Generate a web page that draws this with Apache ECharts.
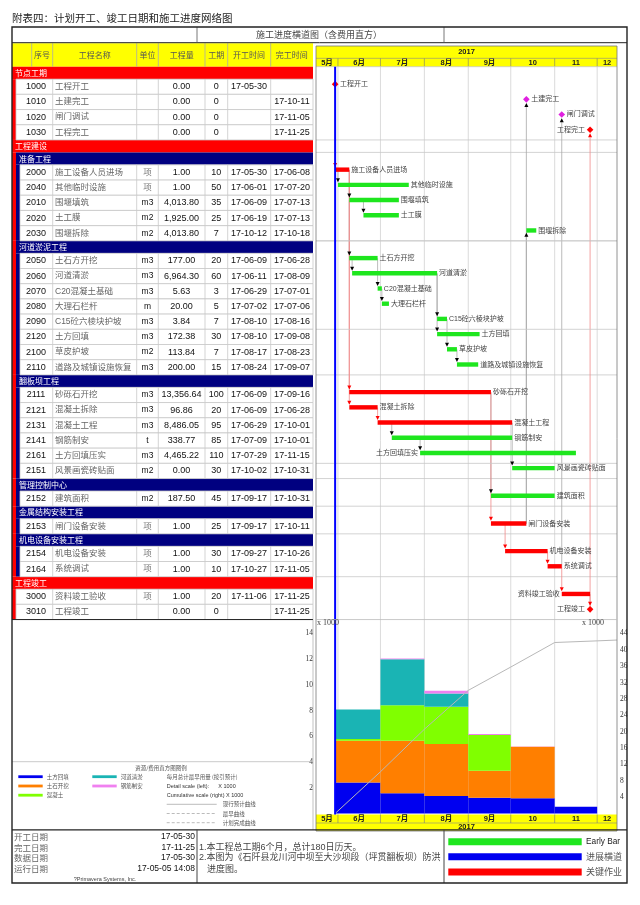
<!DOCTYPE html>
<html>
<head>
<meta charset="utf-8">
<script src="https://cdn.jsdelivr.net/npm/echarts@6/dist/echarts.min.js"></script>
<style>
html, body { margin: 0; padding: 0; background: #fff; }
#chart { width: 640px; height: 905px; }
</style>
</head>
<body>
<div id="chart"></div>
<script>
// ---- table / activity data ----
const codes = ['1000','1010','1020','1030','2000','2040','2010','2020','2030','2050','2060','2070','2080','2090','2120','2100','2110','2111','2121','2131','2141','2161','2151','2152','2153','2154','2164','3000','3010'];
const names = ['工程开工','土建完工','闸门调试','工程完工','施工设备人员进场','其他临时设施','围堰填筑','土工膜','围堰拆除','土石方开挖','河道清淤','C20混凝土基础','大理石栏杆','C15砼六棱块护坡','土方回填','草皮护坡','道路及城镇设施恢复','砂砾石开挖','混凝土拆除','混凝土工程','钢筋制安','土方回填压实','风景画瓷砖贴面','建筑面积','闸门设备安装','机电设备安装','系统调试','资料竣工验收','工程竣工'];
const units = ['','','','','项','项','m3','m2','m2','m3','m3','m3','m','m3','m3','m2','m3','m3','m3','m3','t','m3','m2','m2','项','项','项','项',''];
const quantities = ['0.00','0.00','0.00','0.00','1.00','1.00','4,013.80','1,925.00','4,013.80','177.00','6,964.30','5.63','20.00','3.84','172.38','113.84','200.00','13,356.64','96.86','8,486.05','338.77','4,465.22','0.00','187.50','1.00','1.00','1.00','1.00','0.00'];
const durations = [0,0,0,0,10,50,35,25,7,20,60,3,5,7,30,7,15,100,20,95,85,110,30,45,25,30,10,20,0];
const starts = ['17-05-30','','','','17-05-30','17-06-01','17-06-09','17-06-19','17-10-12','17-06-09','17-06-11','17-06-29','17-07-02','17-08-10','17-08-10','17-08-17','17-08-24','17-06-09','17-06-09','17-06-29','17-07-09','17-07-29','17-10-02','17-09-17','17-09-17','17-09-27','17-10-27','17-11-06',''];
const finishes = ['','17-10-11','17-11-05','17-11-25','17-06-08','17-07-20','17-07-13','17-07-13','17-10-18','17-06-28','17-08-09','17-07-01','17-07-06','17-08-16','17-09-08','17-08-23','17-09-07','17-09-16','17-06-28','17-10-01','17-10-01','17-11-15','17-10-31','17-10-31','17-10-11','17-10-26','17-11-05','17-11-25','17-11-25'];
const critical = [1,0,0,1, 1,0,0,0,0, 0,0,0,0,0,0,0,0, 1,1,1,0,0,0, 0, 1, 1,1, 1,1];
const preds = ['','2153','2164','3010','1000','2000','2000','2010','2153','2010','2050','2050','2070','2060','2060','2090','2100','2000','2000','2121','2131','2141','2131','2111','2111','2153','2154','2164','3000'];
const leftLabels = ['1030','2161','3000','3010'];

// group bands: name, level, index of first activity after band
const bandNames = ['节点工期','工程建设','准备工程','河道淤泥工程','翻板坝工程','管理控制中心','金属结构安装工程','机电设备安装工程','工程竣工'];
const bandLevel = [0,0,1,1,1,1,1,1,0];
const bandBefore = [0,4,4,9,17,23,24,25,27];

// ---- resource histogram (x 1000) ----
const histEdges = ['17-05-30','17-07-01','17-08-01','17-09-01','17-10-01','17-11-01','17-12-01'];
const histNames = ['土方回填','土石开挖','混凝土','河道清淤','钢筋制安'];
const fillBack   = [2.42, 1.57, 1.36, 1.23, 1.18, 0.53];
const excavation = [3.24, 4.09, 4.04, 2.10, 4.01, 0];
const concrete   = [0.13, 2.75, 2.90, 2.77, 0, 0];
const dredging   = [2.30, 3.59, 1.04, 0, 0, 0];
const rebar      = [0, 0.06, 0.20, 0.08, 0.03, 0];
const cumDates  = ['17-05-30','17-07-01','17-08-01','17-09-01','17-10-01','17-11-01','17-12-01','17-12-15'];
const cumValues = [0, 10.2, 20.6, 30.1, 35.8, 41.8, 42.2, 42.4];

// ---- timescale ----
const monthStarts = ['17-05-01','17-06-01','17-07-01','17-08-01','17-09-01','17-10-01','17-11-01','17-12-01','18-01-01'];
const monthLabels = ['5月','6月','7月','8月','9月','10','11','12'];
const dataDate = '17-05-30';

// ---- helpers & layout ----
const DAY = 864e5;
function t(s) { const p = s.split('-').map(Number); return new Date(2000 + p[0], p[1] - 1, p[2]).getTime(); }
const X_MIN = new Date(2017, 4, 16, 12).getTime();
const X_MAX = new Date(2017, 11, 15).getTime();

const RH = 15.2, BH = 12.45;
const GANTT_TOP = 66.7;
const rowTop = [], bandTop = [], rowIndent = [], rowInGroup = [];
let yy = 0, bi = 0, lvl = 0, cnt = 0;
for (let i = 0; i < codes.length; i++) {
  while (bi < bandNames.length && bandBefore[bi] === i) {
    bandTop.push(yy); yy += BH; lvl = bandLevel[bi]; bi++; cnt = 0;
  }
  rowTop.push(yy); yy += RH;
  rowIndent.push(lvl ? 20 : 16);
  rowInGroup.push(cnt++);
}
const H = yy;
const TABLE_R = 313;
const G_L = 316, G_R = 617;

const LAT = '"Liberation Sans", Arial, sans-serif';
const CJK = '"Noto Sans CJK SC", sans-serif';
const MIX = '"Liberation Sans", "Noto Sans CJK SC", sans-serif';
const SERIF = '"Liberation Serif", "DejaVu Serif", serif';
const GRID_C = '#c8c8c8';
const RED = '#ff0000', GREEN = '#1ee61e', MAGENTA = '#e020e0', NAVY = '#000080';

function txt(x, y, s, o) {
  return Object.assign({ type: 'text', x: x, y: y, style: Object.assign({ text: s, textAlign: 'left', textVerticalAlign: 'middle', fontFamily: CJK, fontSize: 8, fill: '#333' }, o || {}) });
}
function ln(x1, y1, x2, y2, stroke, w, dash) {
  return { type: 'line', shape: { x1: x1, y1: y1, x2: x2, y2: y2 }, style: { stroke: stroke, lineWidth: w || 1, lineDash: dash || null } };
}
function rc(x, y, w, h, fill, stroke, lw) {
  return { type: 'rect', shape: { x: x, y: y, width: w, height: h }, style: { fill: fill || 'none', stroke: stroke || null, lineWidth: lw || 1 } };
}

function markX(i) {
  if (durations[i] === 0) return starts[i] ? t(starts[i]) : t(finishes[i]) + DAY;
  return t(starts[i]);
}

// ---- render functions ----
function renderBand(params, api) {
  const b = api.value(2);
  const top = api.coord([X_MIN, bandTop[b]])[1];
  const bot = api.coord([X_MIN, bandTop[b] + BH])[1];
  const nextTop = b + 1 < bandTop.length ? bandTop[b + 1] : H;
  const sEnd = api.coord([X_MIN, nextTop])[1];
  const x0 = bandLevel[b] ? 16 : 12;
  const kids = [
    rc(x0, top, TABLE_R - x0, bot - top, bandLevel[b] ? NAVY : RED),
    txt(x0 + 3, (top + bot) / 2, bandNames[b], { fill: '#fff', fontSize: 8 }),
    rc(12, bandLevel[b] ? top : bot, 4, sEnd - (bandLevel[b] ? top : bot), RED),
    ln(G_L, top, G_R, top, GRID_C, 0.8)
  ];
  if (bandLevel[b]) kids.push(rc(16, bot, 4, sEnd - bot, NAVY));
  return { type: 'group', children: kids };
}

function renderTask(params, api) {
  const i = api.value(2);
  const top = api.coord([X_MIN, rowTop[i]])[1];
  const bot = api.coord([X_MIN, rowTop[i] + RH])[1];
  const yc = (top + bot) / 2;
  const x0 = rowIndent[i];
  const kids = [rc(x0, top, TABLE_R - x0, bot - top, '#fff', GRID_C, 0.8)];
  [52.7, 136.7, 158.3, 205, 227.7, 270.7].forEach(cx => kids.push(ln(cx, top, cx, bot, GRID_C, 0.8)));
  kids.push(txt(36, yc, codes[i], { textAlign: 'center', fontFamily: LAT, fontSize: 9, fill: '#111' }));
  kids.push(txt(55, yc, names[i], { fontFamily: MIX, fontSize: 8.5, fill: '#666' }));
  kids.push(txt(147.5, yc, units[i], { textAlign: 'center', fontFamily: MIX, fontSize: 8.5, fill: units[i] === '项' ? '#777' : '#111' }));
  kids.push(txt(181.5, yc, quantities[i], { textAlign: 'center', fontFamily: LAT, fontSize: 9, fill: '#111' }));
  kids.push(txt(216.3, yc, String(durations[i]), { textAlign: 'center', fontFamily: LAT, fontSize: 9, fill: '#111' }));
  kids.push(txt(249, yc, starts[i], { textAlign: 'center', fontFamily: LAT, fontSize: 9, fill: '#111' }));
  kids.push(txt(292, yc, finishes[i], { textAlign: 'center', fontFamily: LAT, fontSize: 9, fill: '#111' }));

  // 5-row sight lines inside gantt
  if ((rowInGroup[i] + 1) % 5 === 0) kids.push(ln(G_L, bot, G_R, bot, GRID_C, 0.8));

  const crit = critical[i] === 1;
  const isMs = durations[i] === 0;
  const x = api.coord([markX(i), 0])[0];
  const by = yc - 2.6;
  const left = leftLabels.indexOf(codes[i]) >= 0;
  const lab = { fontFamily: MIX, fontSize: 7, fill: '#444' };
  if (isMs) {
    const c = crit ? RED : MAGENTA;
    kids.push({ type: 'polygon', shape: { points: [[x, by - 3.3], [x + 3.3, by], [x, by + 3.3], [x - 3.3, by]] }, style: { fill: c } });
    kids.push(txt(left ? x - 5 : x + 5, by, names[i], Object.assign({ textAlign: left ? 'right' : 'left' }, lab)));
  } else {
    const xe = api.coord([t(finishes[i]) + DAY, 0])[0];
    kids.push(rc(x, yc - 5, xe - x, 4.4, crit ? RED : GREEN));
    kids.push(txt(left ? x - 2 : xe + 2, by, names[i], Object.assign({ textAlign: left ? 'right' : 'left' }, lab)));
  }
  if (preds[i]) {
    const p = codes.indexOf(preds[i]);
    const ac = crit && critical[p] ? RED : '#000';
    let tip;
    if (p < i) {
      tip = isMs ? by - 3.6 : yc - 5.4;
      kids.push({ type: 'polygon', shape: { points: [[x - 2, tip - 4], [x + 2, tip - 4], [x, tip]] }, style: { fill: ac } });
    } else {
      tip = isMs ? by + 3.6 : yc - 0.4;
      kids.push({ type: 'polygon', shape: { points: [[x - 2, tip + 4], [x + 2, tip + 4], [x, tip]] }, style: { fill: ac } });
    }
  }
  return { type: 'group', children: kids };
}

function renderLink(params, api) {
  const i = api.value(2);
  const p = codes.indexOf(preds[i]);
  const x = api.coord([markX(i), 0])[0];
  const ycI = api.coord([X_MIN, rowTop[i] + RH / 2])[1];
  const ycP = api.coord([X_MIN, rowTop[p] + RH / 2])[1];
  const isMs = durations[i] === 0;
  const y2 = p < i ? (isMs ? ycI - 9.8 : ycI - 9.4) : (isMs ? ycI + 5 : ycI + 3.6);
  const col = critical[i] && critical[p] ? '#f08a8a' : '#a8a8a8';
  return ln(x, ycP - 2.6, x, y2, col, 0.8);
}

function renderMonth(params, api) {
  const k = api.value(2);
  const ms = t(monthStarts[k]), me = t(monthStarts[k + 1]);
  const xs = api.coord([Math.max(ms, X_MIN), 0])[0];
  const xe = api.coord([Math.min(me, X_MAX), 0])[0];
  const kids = [];
  if (ms > X_MIN) {
    kids.push(ln(xs, GANTT_TOP, xs, 814.5, '#d2d2d2', 0.8));
    kids.push(ln(xs, 58.3, xs, 66.7, '#777', 0.6));
    kids.push(ln(xs, 814.5, xs, 823, '#777', 0.6));
  }
  const lo = { textAlign: 'center', fontFamily: MIX, fontSize: 7.5, fontWeight: 'bold', fill: '#222' };
  kids.push(txt((xs + xe) / 2, 62.6, monthLabels[k], lo));
  kids.push(txt((xs + xe) / 2, 818.8, monthLabels[k], lo));
  return { type: 'group', children: kids };
}

const histArrays = [fillBack, excavation, concrete, dredging, rebar];
const histColors = ['#0000f0', '#ff7f00', '#80ff00', '#1ab4b4', '#f080f0'];
function renderHist(params, api) {
  const k = api.value(2);
  const ta = t(histEdges[k]), tb = t(histEdges[k + 1]);
  const kids = [];
  let base = 0;
  histArrays.forEach((arr, j) => {
    const v = arr[k];
    if (v > 0) {
      const p0 = api.coord([ta, base]);
      const p1 = api.coord([tb, base + v]);
      kids.push(rc(p0[0], p1[1], p1[0] - p0[0], p0[1] - p1[1], histColors[j]));
    }
    base += v;
  });
  return { type: 'group', children: kids };
}

function renderDataDate(params, api) {
  const x = api.coord([t(dataDate), 0])[0];
  return ln(x, GANTT_TOP, x, 814.5, '#0000ff', 2);
}

// ---- static frame / legend graphics ----
const g = [];
g.push(txt(12, 18, '附表四：计划开工、竣工日期和施工进度网络图', { fontSize: 10.5, fill: '#222' }));
g.push(rc(12, 43.3, 301, 23.4, '#ffff00'));
g.push(rc(G_L, 46, G_R - G_L, 20.7, '#ffff00'));
g.push(rc(G_L, 814.5, G_R - G_L, 16.3, '#ffff00'));
[31.7, 52.7, 136.7, 158.3, 205, 227.7, 270.7].forEach(cx => g.push(ln(cx, 43.3, cx, 66.7, '#aaa', 0.8)));
[['序号', 42], ['工程名称', 94.7], ['单位', 147.5], ['工程量', 181.7], ['工期', 216.3], ['开工时间', 249], ['完工时间', 291.7]].forEach(h => g.push(txt(h[1], 54.5, h[0], { textAlign: 'center', fontSize: 8, fill: '#555' })));
g.push(ln(G_L, 58.3, G_R, 58.3, '#888', 0.6));
g.push(ln(G_L, 823, G_R, 823, '#888', 0.6));
g.push(txt(466.5, 52.3, '2017', { textAlign: 'center', fontFamily: LAT, fontSize: 7.5, fontWeight: 'bold', fill: '#222' }));
g.push(txt(466.5, 827, '2017', { textAlign: 'center', fontFamily: LAT, fontSize: 7.5, fontWeight: 'bold', fill: '#222' }));
g.push(rc(G_L, 46, G_R - G_L, 785, 'none', '#777', 0.8));
g.push(ln(12, 42.7, 627, 42.7, '#222', 1));
g.push(ln(197, 27, 197, 42.7, '#555', 0.8));
g.push(ln(444, 27, 444, 42.7, '#555', 0.8));
g.push(txt(319, 35, '施工进度横道图（含费用直方）', { textAlign: 'center', fontSize: 9, fill: '#444' }));
g.push(ln(12, GANTT_TOP + H, TABLE_R, GANTT_TOP + H, '#222', 1));
g.push(ln(G_L, GANTT_TOP + H, G_R, GANTT_TOP + H, '#bbb', 0.8));
g.push(ln(TABLE_R, GANTT_TOP + H, TABLE_R, 829.8, '#999', 0.6));
g.push(txt(317, 623, 'x 1000', { fontFamily: SERIF, fontSize: 8, fill: '#444' }));
g.push(txt(582, 623, 'x 1000', { fontFamily: SERIF, fontSize: 8, fill: '#444' }));

// histogram legend (bottom left)
g.push(ln(12, 761.7, TABLE_R, 761.7, '#bbb', 0.8));
g.push(txt(161, 767.7, '资源/费用直方图图例', { textAlign: 'center', fontSize: 5.5, fill: '#555' }));
const legPos = [[18.3, 776.7], [18.3, 786], [18.3, 795.2], [92.3, 776.7], [92.3, 786]];
histNames.forEach((n, j) => {
  const p = legPos[j];
  g.push(ln(p[0], p[1], p[0] + 24.4, p[1], histColors[j], 2.8));
  g.push(txt(p[0] + 28.5, p[1], n, { fontSize: 5.5, fill: '#555' }));
});
g.push(txt(166.7, 776.7, '每月总计最早用量 (按引预计)', { fontSize: 5.5, fill: '#555' }));
g.push(txt(166.7, 786, 'Detail scale (left):', { fontFamily: LAT, fontSize: 5.5, fill: '#333' }));
g.push(txt(218.3, 786, 'X 1000', { fontFamily: LAT, fontSize: 5.5, fill: '#333' }));
g.push(txt(166.7, 795.5, 'Cumulative scale (right) X 1000', { fontFamily: LAT, fontSize: 5.5, fill: '#333' }));
[['现行预计曲线', 804.3, null], ['最早曲线', 813.5, [3, 2]], ['计划完成曲线', 822.7, [3, 2]]].forEach(r => {
  g.push(ln(166.7, r[1], 216.7, r[1], '#aaa', 0.8, r[2]));
  g.push(txt(222.7, r[1], r[0], { fontSize: 5.5, fill: '#555' }));
});

// footer
g.push(ln(12, 829.8, 627, 829.8, '#222', 1.2));
g.push(ln(197, 829.8, 197, 883, '#444', 1));
g.push(ln(444, 829.8, 444, 883, '#444', 1));
[['开工日期', '17-05-30', 836.7], ['完工日期', '17-11-25', 847.3], ['数据日期', '17-05-30', 857.5], ['运行日期', '17-05-05 14:08', 868.3]].forEach(r => {
  g.push(txt(14, r[2], r[0], { fontSize: 8.5, fill: '#666' }));
  g.push(txt(195, r[2], r[1], { textAlign: 'right', fontFamily: LAT, fontSize: 8.5, fill: '#111' }));
});
g.push(txt(105, 879.5, '?Primavera Systems, Inc.', { textAlign: 'center', fontFamily: LAT, fontSize: 5.5, fill: '#444' }));
g.push(txt(199, 847.3, '1.本工程总工期6个月，总计180日历天。', { fontFamily: MIX, fontSize: 9, fill: '#444' }));
g.push(txt(199, 857.5, '2.本图为《石阡县龙川河中坝至大沙坝段（坪贯翻板坝）防洪', { fontFamily: MIX, fontSize: 9, fill: '#444' }));
g.push(txt(207, 868.3, '进度图。', { fontSize: 9, fill: '#444' }));
[['Early Bar', GREEN, 841.7, LAT], ['进展横道', '#0000f0', 856.8, CJK], ['关键作业', RED, 872, CJK]].forEach(r => {
  g.push(rc(448.3, r[2] - 3.5, 133.4, 7, r[1]));
  g.push(txt(586, r[2], r[0], { fontFamily: r[3], fontSize: r[3] === LAT ? 8.3 : 9, fill: r[3] === LAT ? '#222' : '#555' }));
});
g.push(rc(12, 27, 615, 856, 'none', '#222', 1.4));
g.forEach(e => { e.z = e.style && e.style.fill === '#ffff00' ? 0 : 20; });

// ---- chart ----
const chart = echarts.init(document.getElementById('chart'));
const idx = n => Array.from({ length: n }, (_, i) => [X_MIN, 0, i]);
const taskLinks = codes.map((c, i) => i).filter(i => preds[i]).map(i => [X_MIN, 0, i]);

chart.setOption({
  backgroundColor: '#fff',
  animation: false,
  grid: [
    { left: G_L, top: GANTT_TOP, width: G_R - G_L, height: H },
    { left: G_L, top: 633.5, width: G_R - G_L, height: 180 },
    { left: G_L, top: 46, width: G_R - G_L, height: 785 }
  ],
  xAxis: [0, 1, 2].map(k => ({ type: 'time', gridIndex: k, min: X_MIN, max: X_MAX, show: false })),
  yAxis: [
    { type: 'value', gridIndex: 0, min: 0, max: H, inverse: true, show: false },
    {
      type: 'value', gridIndex: 1, min: 0, max: 14, interval: 2, position: 'left',
      axisLine: { show: false }, axisTick: { show: false }, splitLine: { show: false },
      axisLabel: { margin: 3, fontSize: 7.5, color: '#333', fontFamily: SERIF, formatter: v => v === 0 ? '' : v }
    },
    {
      type: 'value', gridIndex: 1, min: 0, max: 44, interval: 4, position: 'right',
      axisLine: { show: false }, axisTick: { show: false }, splitLine: { show: false },
      axisLabel: { margin: 3, fontSize: 7.5, color: '#333', fontFamily: SERIF, formatter: v => v === 0 ? '' : v }
    },
    { type: 'value', gridIndex: 2, min: 0, max: 1, show: false }
  ],
  graphic: { elements: g },
  series: [
    { type: 'custom', name: 'months', xAxisIndex: 2, yAxisIndex: 3, z: 1, renderItem: renderMonth, data: idx(monthLabels.length) },
    { type: 'custom', name: 'hist', xAxisIndex: 1, yAxisIndex: 1, z: 2, renderItem: renderHist, data: idx(histEdges.length - 1) },
    {
      type: 'line', name: 'cumulative', xAxisIndex: 1, yAxisIndex: 2, z: 4, symbol: 'none',
      lineStyle: { color: '#b8b8b8', width: 1 },
      data: cumDates.map((d, i) => [t(d), cumValues[i]])
    },
    { type: 'custom', name: 'bands', xAxisIndex: 0, yAxisIndex: 0, z: 3, renderItem: renderBand, data: idx(bandNames.length) },
    { type: 'custom', name: 'links', xAxisIndex: 0, yAxisIndex: 0, z: 3, renderItem: renderLink, data: taskLinks },
    { type: 'custom', name: 'tasks', xAxisIndex: 0, yAxisIndex: 0, z: 5, renderItem: renderTask, data: idx(codes.length) },
    { type: 'custom', name: 'dataDate', xAxisIndex: 2, yAxisIndex: 3, z: 6, renderItem: renderDataDate, data: [[X_MIN, 0, 0]] }
  ]
});
</script>
</body>
</html>
